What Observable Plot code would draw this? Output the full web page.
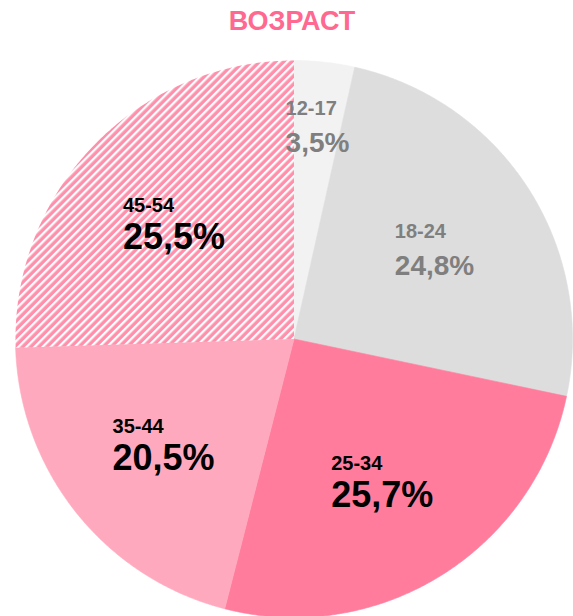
<!DOCTYPE html>
<html><head><meta charset="utf-8">
<script src="https://cdn.jsdelivr.net/npm/d3@7"></script>
<script src="https://cdn.jsdelivr.net/npm/@observablehq/plot@0.6"></script>
<style>html,body{margin:0;padding:0;background:#fff;overflow:hidden}</style>
</head><body><div id="chart"></div>
<script>
// ---- data ----
const title = "ВОЗРАСТ";
const categories = ["12-17", "18-24", "25-34", "35-44", "45-54"];
const shares = [3.5, 24.8, 25.7, 20.5, 25.5];
const shareLabels = ["3,5%", "24,8%", "25,7%", "20,5%", "25,5%"];

// ---- styles ----
const sliceColors = ["#f2f2f2", "#dddddd", "#ff7c9c", "#ffa9be", "url(#hatch4554)"];
const labelColors = ["#7f7f7f", "#7f7f7f", "#000000", "#000000", "#000000"];
const pctSizes = [28, 28, 36, 36, 36];
const catSize = 20;
const FONT = "Liberation Sans, Arial, Helvetica, sans-serif";

// ---- layout ----
const W = 573, H = 616;
const xRange = [15, 572], yRange = [617, 60];
const pxPerUnit = (xRange[1] - xRange[0]) / 2;

const arcs = d3.pie().sort(null).value(d => d)(shares);

// slice polygons in unit-circle coordinates (y up), built from pie angles
const slices = arcs.map((a, i) => {
  const n = Math.max(2, Math.ceil((a.endAngle - a.startAngle) / (2 * Math.PI) * 720));
  const pts = [{x: 0, y: 0}];
  for (let k = 0; k <= n; k++) {
    const t = a.startAngle + (a.endAngle - a.startAngle) * k / n;
    pts.push({x: Math.sin(t), y: Math.cos(t)});
  }
  pts.push({x: 0, y: 0});
  return {cat: categories[i], color: sliceColors[i], pts};
});

const ctx = document.createElement("canvas").getContext("2d");
function textWidth(s, size) {
  ctx.font = `bold ${size}px ${FONT}`;
  return ctx.measureText(s).width;
}

const labels = arcs.map((a, i) => {
  const mid = (a.startAngle + a.endAngle) / 2;
  const frac = shares[i] < 5 ? 0.77 : 0.6;
  const cx = frac * Math.sin(mid), cy = frac * Math.cos(mid);
  const w = textWidth(shareLabels[i], pctSizes[i]);
  return {
    x: cx - (w / 2) / pxPerUnit,
    y: cy,
    cat: categories[i],
    pct: shareLabels[i],
    color: labelColors[i],
    size: pctSizes[i]
  };
});

const marks = [];
for (const s of slices) {
  const solid = !s.color.startsWith("url(");
  marks.push(Plot.line(s.pts, {
    x: "x", y: "y", curve: "linear",
    fill: s.color,
    stroke: solid ? s.color : "none",
    strokeWidth: solid ? 0.6 : 0
  }));
}
for (const l of labels) {
  marks.push(Plot.text([l], {
    x: "x", y: "y", text: "cat", textAnchor: "start", lineAnchor: "middle",
    dy: -17, fontSize: catSize, fontWeight: "bold", fill: l.color
  }));
  marks.push(Plot.text([l], {
    x: "x", y: "y", text: "pct", textAnchor: "start", lineAnchor: "middle",
    dy: 26.5 - 0.32 * l.size, fontSize: l.size, fontWeight: "bold", fill: l.color
  }));
}
marks.push(Plot.text([title], {
  frameAnchor: "top", lineAnchor: "top", dx: 5, dy: 10,
  fontSize: 27, fontWeight: "bold", fill: "#ff6890"
}));

const chart = Plot.plot({
  width: W, height: H, margin: 0,
  x: {domain: [-1, 1], range: xRange, axis: null},
  y: {domain: [-1, 1], range: yRange, axis: null},
  style: {fontFamily: FONT, background: "#fff"},
  marks
});

// hatch pattern for the 45-54 slice
const defs = d3.select(chart).insert("defs", ":first-child");
const pat = defs.append("pattern")
  .attr("id", "hatch4554")
  .attr("patternUnits", "userSpaceOnUse")
  .attr("width", 5.7).attr("height", 5.7)
  .attr("patternTransform", "rotate(45)");
pat.append("rect").attr("width", 5.7).attr("height", 5.7).attr("fill", "#ff8fab");
pat.append("rect").attr("width", 2.3).attr("height", 5.7).attr("fill", "#ffffff");

document.getElementById("chart").appendChild(chart);
</script>
</body></html>
